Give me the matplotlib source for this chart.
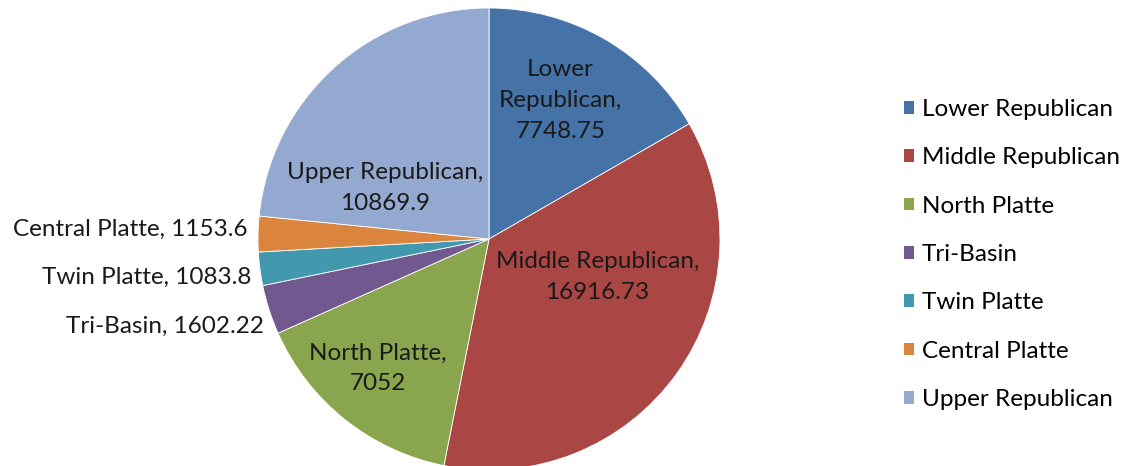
import matplotlib.pyplot as plt
from matplotlib.patches import Patch

plt.rcParams['font.family'] = ['Lato', 'DejaVu Sans']

regions = ['Lower Republican', 'Middle Republican', 'North Platte', 'Tri-Basin',
           'Twin Platte', 'Central Platte', 'Upper Republican']
values = [7748.75, 16916.73, 7052, 1602.22, 1083.8, 1153.6, 10869.9]
value_text = ['7748.75', '16916.73', '7052', '1602.22', '1083.8', '1153.6', '10869.9']
colors = ['#4572A7', '#AA4643', '#89A54E', '#71588F', '#4198AF', '#DB843D', '#93A9CF']

# label spots in units of pie radius, (x, y, ha, inside)
label_pos = [(0.31, 0.60, 'center', True), (0.47, -0.165, 'center', True),
             (-0.48, -0.56, 'center', True), (-0.975, -0.377, 'right', False),
             (-1.03, -0.165, 'right', False), (-1.045, 0.04, 'right', False),
             (-0.45, 0.22, 'center', True)]

fig = plt.figure(figsize=(11.29, 4.66), dpi=100)
r = 231
ax = fig.add_axes([(489 - r) / 1129, (227 - r) / 466, 2 * r / 1129, 2 * r / 466])
ax.pie(values, colors=colors, startangle=90, counterclock=False, radius=1,
       wedgeprops=dict(edgecolor='white', linewidth=0.6))
ax.set_xlim(-1, 1)
ax.set_ylim(-1, 1)
ax.set_aspect('equal')

fs = 17.5
for name, v, (x, y, ha, inside) in zip(regions, value_text, label_pos):
    if inside:
        if name == 'Lower Republican':
            txt = 'Lower\nRepublican,\n' + v
        else:
            txt = name + ',\n' + v
    else:
        txt = name + ', ' + v
    ax.text(x, y, txt, ha=ha, va='center', fontsize=fs, color='#1a1a1a',
            linespacing=1.58, clip_on=False)

handles = [Patch(facecolor=c, edgecolor='none') for c in colors]
fig.legend(handles, regions, loc='upper left', bbox_to_anchor=(904 / 1129, 1 - 99 / 466),
           frameon=False, fontsize=fs, handlelength=0.42, handleheight=0.42,
           handletextpad=0.3, labelspacing=1.125, borderaxespad=0, borderpad=0)

fig.savefig('out.png', dpi=100)
